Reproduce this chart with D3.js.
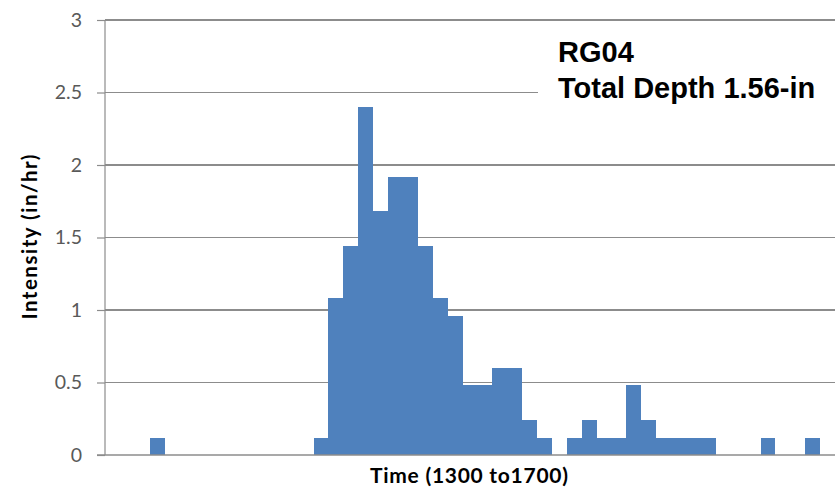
<!DOCTYPE html>
<html>
<head>
<meta charset="utf-8">
<script src="https://cdn.jsdelivr.net/npm/d3@7"></script>
<style>
  html, body { margin: 0; padding: 0; background: #fff; }
  svg { display: block; }
</style>
</head>
<body>
<svg id="chart" width="840" height="487"></svg>
<script>
// 5-minute rainfall intensity, 1300 to 1700 (49 intervals)
const slots = d3.range(49);
const intensity = [
  0, 0, 0, 0.12, 0, 0, 0, 0, 0, 0,
  0, 0, 0, 0, 0.12, 1.08, 1.44, 2.4, 1.68, 1.92,
  1.92, 1.44, 1.08, 0.96, 0.48, 0.48, 0.6, 0.6, 0.24, 0.12,
  0, 0.12, 0.24, 0.12, 0.12, 0.48, 0.24, 0.12, 0.12, 0.12,
  0.12, 0, 0, 0, 0.12, 0, 0, 0.12, 0
];
const yTicks = [0, 0.5, 1, 1.5, 2, 2.5, 3];
const yTickLabels = ["0", "0.5", "1", "1.5", "2", "2.5", "3"];
const gaugeName = "RG04";
const depthLabel = "Total Depth 1.56-in";
const xTitle = "Time (1300 to1700)";
const yTitle = "Intensity (in/hr)";

const svg = d3.select("#chart");
const plotLeft = 105, plotRight = 835, plotTop = 20, plotBottom = 455;

const x = d3.scaleBand().domain(slots).range([plotLeft, plotRight]).padding(0);
const y = d3.scaleLinear().domain([0, 3]).range([plotBottom, plotTop]);

const gridColor = "#8c8c8c";
const uiFont = "Lato, 'Open Sans', sans-serif";

// horizontal gridlines
svg.append("g")
  .selectAll("line")
  .data(yTicks.filter(t => t > 0))
  .join("line")
  .attr("x1", plotLeft).attr("x2", plotRight)
  .attr("y1", d => y(d)).attr("y2", d => y(d))
  .attr("stroke", gridColor).attr("stroke-width", 1.2)
  .attr("shape-rendering", "crispEdges");

// white label box covering part of the plot
svg.append("rect")
  .attr("x", 538).attr("y", 27)
  .attr("width", 302).attr("height", 120)
  .attr("fill", "#fff");

// bars (snapped to whole pixels so neighbours join without seams)
svg.append("g")
  .selectAll("rect")
  .data(slots.filter(i => intensity[i] > 0))
  .join("rect")
  .attr("x", i => Math.round(x(i)))
  .attr("y", i => y(intensity[i]))
  .attr("width", i => Math.round(x(i) + x.bandwidth()) - Math.round(x(i)))
  .attr("height", i => y(0) - y(intensity[i]))
  .attr("fill", "#4f81bd")
  .attr("shape-rendering", "crispEdges");

// y axis
const yAxis = d3.axisLeft(y)
  .tickValues(yTicks)
  .tickFormat((d, i) => yTickLabels[i])
  .tickSize(8)
  .tickPadding(15);

const gy = svg.append("g")
  .attr("transform", `translate(${plotLeft},0)`)
  .call(yAxis);
gy.select(".domain").attr("stroke", gridColor).attr("stroke-width", 1.2)
  .attr("d", `M0,${plotTop}V${plotBottom}`);
gy.selectAll(".tick line").attr("stroke", gridColor).attr("stroke-width", 1.2);
gy.selectAll(".tick text")
  .attr("fill", "#595959")
  .style("font-family", uiFont)
  .style("font-size", "19.5px");

// x axis baseline
svg.append("line")
  .attr("x1", plotLeft - 8).attr("x2", plotRight)
  .attr("y1", y(0)).attr("y2", y(0))
  .attr("stroke", gridColor).attr("stroke-width", 1.4);

// axis titles
svg.append("text")
  .attr("transform", `translate(37,237) rotate(-90)`)
  .attr("text-anchor", "middle")
  .attr("textLength", 165)
  .attr("lengthAdjust", "spacing")
  .style("font-family", uiFont)
  .style("font-weight", "bold")
  .style("font-size", "20.5px")
  .attr("fill", "#000")
  .text(yTitle);

svg.append("text")
  .attr("x", 469).attr("y", 483)
  .attr("text-anchor", "middle")
  .attr("textLength", 198)
  .attr("lengthAdjust", "spacing")
  .style("font-family", uiFont)
  .style("font-weight", "bold")
  .style("font-size", "21px")
  .attr("fill", "#000")
  .text(xTitle);

// gauge annotation
const note = svg.append("text")
  .style("font-family", "'Liberation Sans', Arial, sans-serif")
  .style("font-weight", "bold")
  .style("font-size", "29px")
  .attr("fill", "#000");
note.append("tspan").attr("x", 558).attr("y", 62).text(gaugeName);
note.append("tspan").attr("x", 558).attr("y", 98).text(depthLabel);
</script>
</body>
</html>
